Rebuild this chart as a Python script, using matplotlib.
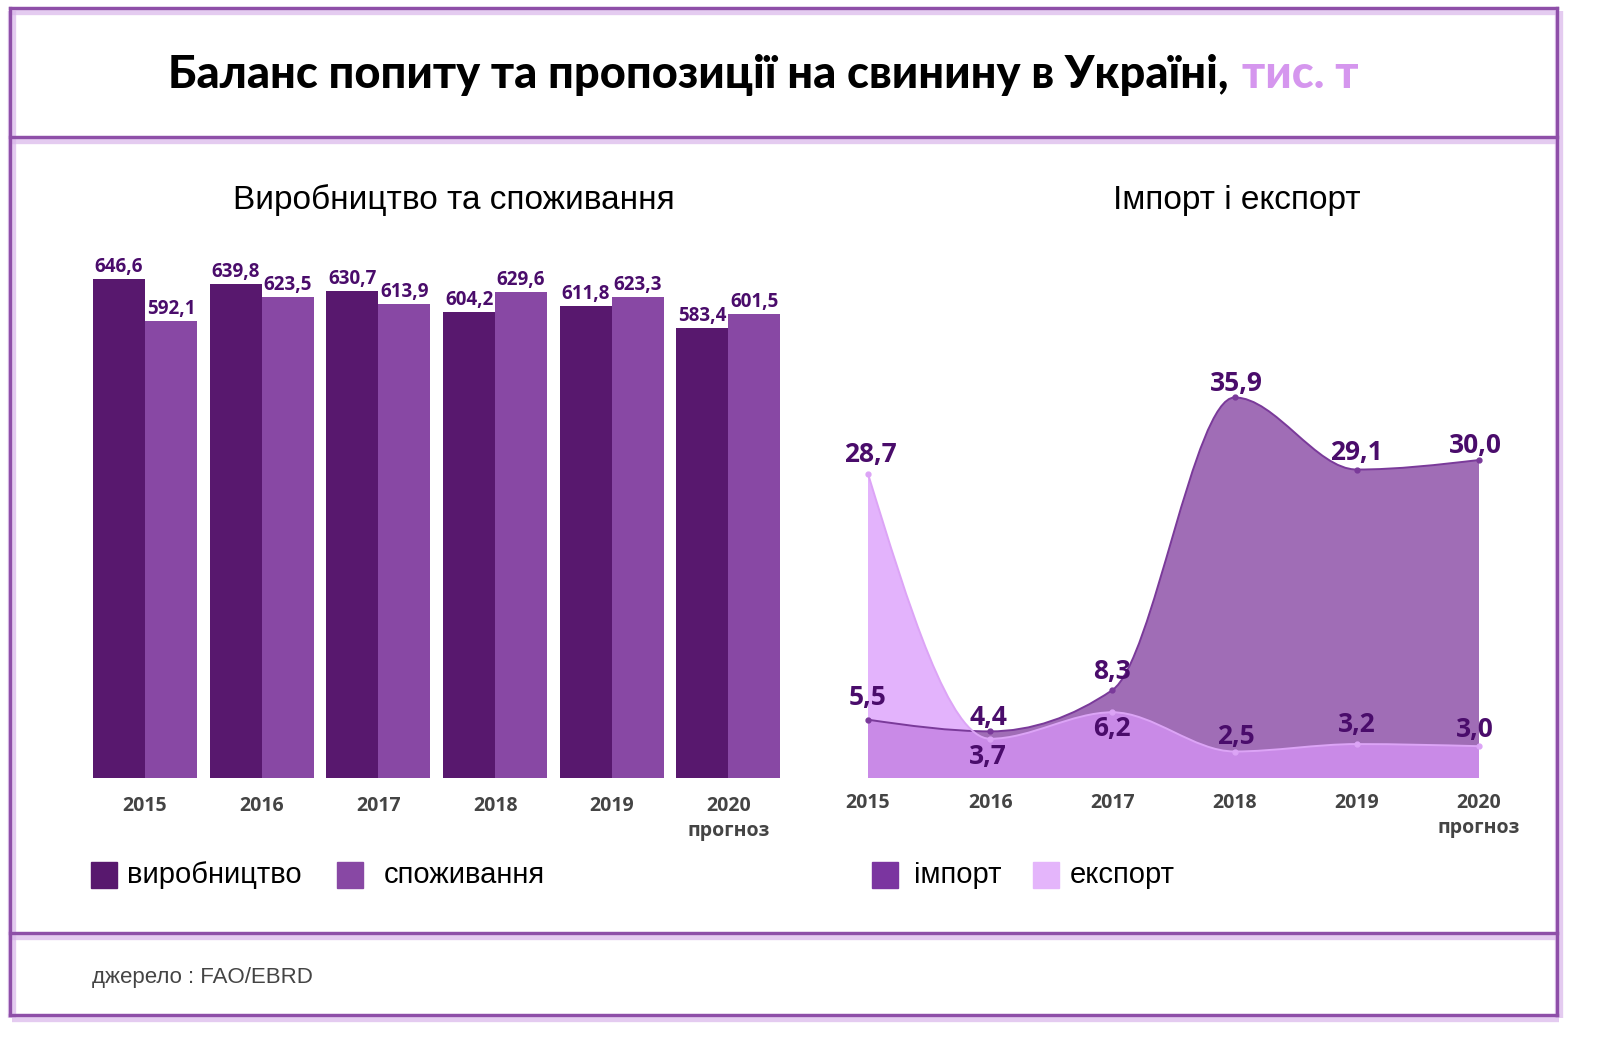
import matplotlib
matplotlib.use('Agg')
import matplotlib.pyplot as plt
from matplotlib.path import Path
from matplotlib.patches import PathPatch, Rectangle
from matplotlib.lines import Line2D

years = ['2015', '2016', '2017', '2018', '2019', '2020\nпрогноз']
production = [646.6, 639.8, 630.7, 604.2, 611.8, 583.4]
consumption = [592.1, 623.5, 613.9, 629.6, 623.3, 601.5]
imports = [5.5, 4.4, 8.3, 35.9, 29.1, 30.0]
exports = [28.7, 3.7, 6.2, 2.5, 3.2, 3.0]

W, H = 1600, 1047
c_prod = '#58186e'
c_cons = '#8848a4'
c_lbl = '#4a0c6b'
c_frame = '#8e4fa8'


def fx(px):
    return px / W


def fy(py):
    return 1 - py / H


def monotone_path(xs, ys, close=False):
    # smooth monotone cubic through the points (same idea as d3 curveMonotoneX)
    n = len(xs)
    s = [(ys[i + 1] - ys[i]) / (xs[i + 1] - xs[i]) for i in range(n - 1)]
    m = [0.0] * n
    for i in range(1, n - 1):
        s0, s1 = s[i - 1], s[i]
        if s0 * s1 <= 0:
            m[i] = 0.0
        else:
            p = (s0 + s1) / 2
            sign = 1 if s0 > 0 else -1
            m[i] = 2 * sign * min(abs(s0), abs(s1), 0.5 * abs(p))
    m[0] = (3 * s[0] - m[1]) / 2
    m[-1] = (3 * s[-1] - m[-2]) / 2
    verts = [(xs[0], ys[0])]
    codes = [Path.MOVETO]
    for i in range(n - 1):
        h = xs[i + 1] - xs[i]
        verts += [(xs[i] + h / 3, ys[i] + m[i] * h / 3),
                  (xs[i + 1] - h / 3, ys[i + 1] - m[i + 1] * h / 3),
                  (xs[i + 1], ys[i + 1])]
        codes += [Path.CURVE4] * 3
    if close:
        verts += [(xs[-1], 0), (xs[0], 0), (xs[0], 0)]
        codes += [Path.LINETO, Path.LINETO, Path.CLOSEPOLY]
    return Path(verts, codes)


fig = plt.figure(figsize=(16, 10.47), dpi=100)
fig.patch.set_facecolor('white')

# frame with soft shadow
frame = [((10, 8), (1557, 8)), ((10, 8), (10, 1015)), ((1557, 8), (1557, 1015)),
         ((10, 1015), (1557, 1015)), ((10, 137), (1557, 137)), ((10, 933), (1557, 933))]
for (x0, y0), (x1, y1) in frame:
    fig.add_artist(Line2D([fx(x0 + 2), fx(x1 + 2)], [fy(y0 + 3), fy(y1 + 3)],
                          color='#d9b6ea', lw=6, alpha=0.7, solid_capstyle='butt'))
for (x0, y0), (x1, y1) in frame:
    fig.add_artist(Line2D([fx(x0), fx(x1)], [fy(y0), fy(y1)],
                          color=c_frame, lw=2.4, solid_capstyle='projecting'))

# title
tfont = ['Lato', 'Roboto', 'DejaVu Sans']
t1 = fig.text(fx(168), fy(75), 'Баланс попиту та пропозиції на свинину в Україні,',
              fontsize=32.5, fontfamily=tfont, fontweight='black', color='black',
              ha='left', va='center')
fig.canvas.draw()
bb = t1.get_window_extent()
fig.text(bb.x1 / W + fx(14), fy(75), 'тис. т', fontsize=32.5, fontfamily=tfont,
         fontweight='black', color='#d596ee', ha='left', va='center')

# subtitles
fig.text(fx(454), fy(200), 'Виробництво та споживання', fontsize=24,
         fontfamily='Liberation Sans', ha='center', va='center')
fig.text(fx(1237), fy(200), 'Імпорт і експорт', fontsize=24,
         fontfamily='Liberation Sans', ha='center', va='center')

# left: bars
step1 = 116.7
ax1 = fig.add_axes([fx(60), fy(778), fx(820) - fx(60), (778 - 250) / H])
ax1.set_xlim((60 - 145) / step1, (820 - 145) / step1)
ax1.set_ylim(0, 528 / 0.772)
bw = 52 / step1
xs = list(range(len(years)))
b1 = ax1.bar([x - bw / 2 for x in xs], production, width=bw, color=c_prod)
b2 = ax1.bar([x + bw / 2 for x in xs], consumption, width=bw, color=c_cons)
for bars, vals in ((b1, production), (b2, consumption)):
    for r, v in zip(bars, vals):
        ax1.annotate(f'{v:.1f}'.replace('.', ','), (r.get_x() + r.get_width() / 2, v),
                     xytext=(0, 2), textcoords='offset pixels', ha='center', va='bottom',
                     fontsize=13.5, fontweight='bold', fontfamily='Open Sans', color=c_lbl)
ax1.set_xticks(xs)
ax1.set_xticklabels(years, fontsize=14, fontweight='bold', fontfamily='Open Sans',
                    color='#444444', linespacing=1.3)
ax1.tick_params(axis='x', length=0, pad=13)
ax1.set_yticks([])
for sp in ax1.spines.values():
    sp.set_visible(False)

# right: areas
step2 = 122.2
ax2 = fig.add_axes([fx(830), fy(778), fx(1530) - fx(830), (778 - 360) / H])
ax2.set_xlim((830 - 868) / step2, (1530 - 868) / step2)
ax2.set_ylim(0, 418 / 10.6)
ax2.add_patch(PathPatch(monotone_path(xs, imports, close=True), fc='#a06db6', ec='none'))
ax2.add_patch(PathPatch(monotone_path(xs, exports, close=True), fc='#d996fb', ec='none', alpha=0.72))
ax2.add_patch(PathPatch(monotone_path(xs, imports), fc='none', ec='#7a3a9a', lw=1.4))
ax2.add_patch(PathPatch(monotone_path(xs, exports), fc='none', ec='#dca4f6', lw=1.4))
ax2.plot(xs, imports, 'o', ms=3.5, color='#7a3a9a')
ax2.plot(xs, exports, 'o', ms=3.5, color='#dca4f6')

imp_off = [(0, 22), (-2, 14), (0, 19), (2, 14), (0, 17), (-4, 14)]
exp_off = [(2, 19), (-2, -18), (0, -16), (1, 15), (0, 20), (-4, 17)]
for x, v, off in zip(xs, imports, imp_off):
    ax2.annotate(f'{v:.1f}'.replace('.', ','), (x, v), xytext=off, textcoords='offset pixels',
                 ha='center', va='center', fontsize=19, fontweight='bold',
                 fontfamily='Open Sans', color=c_lbl)
for x, v, off in zip(xs, exports, exp_off):
    ax2.annotate(f'{v:.1f}'.replace('.', ','), (x, v), xytext=off, textcoords='offset pixels',
                 ha='center', va='center', fontsize=19, fontweight='bold',
                 fontfamily='Open Sans', color=c_lbl)
ax2.set_xticks(xs)
ax2.set_xticklabels(years, fontsize=14, fontweight='bold', fontfamily='Open Sans',
                    color='#444444', linespacing=1.3)
ax2.tick_params(axis='x', length=0, pad=11)
ax2.set_yticks([])
for sp in ax2.spines.values():
    sp.set_visible(False)

# legends
legend_items = [(91, c_prod, 127, 'виробництво'), (337, c_cons, 384, 'споживання'),
                (872, '#7b35a0', 914, 'імпорт'), (1033, '#e4b5fb', 1070, 'експорт')]
for sx, col, tx, label in legend_items:
    fig.add_artist(Rectangle((fx(sx), fy(888)), 26 / W, 26 / H, color=col))
    fig.text(fx(tx), fy(875), label, fontsize=21, fontfamily='Liberation Sans',
             ha='left', va='center')

# source
fig.text(fx(92), fy(977), 'джерело : FAO/EBRD', fontsize=16, fontfamily='Liberation Sans',
         color='#444444', ha='left', va='center')

fig.savefig('out.png', dpi=100)
